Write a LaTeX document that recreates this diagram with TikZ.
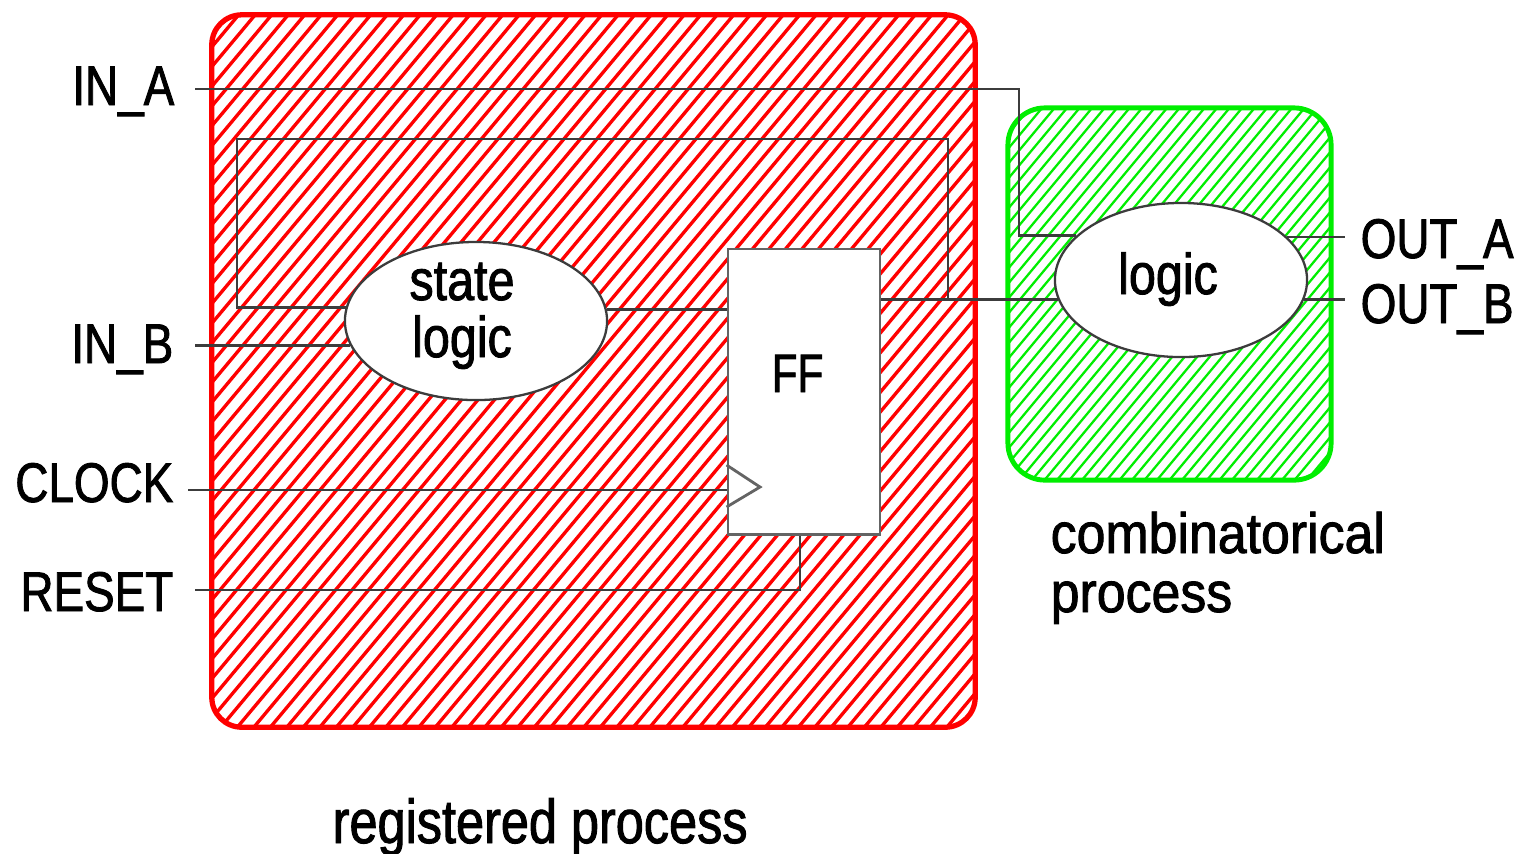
\documentclass[tikz,border=0pt]{standalone}
\usepackage{fontspec}
\usetikzlibrary{shapes.geometric,calc}

\newfontfamily\portfont[FakeStretch=0.82,FakeBold=1.5]{Liberation Sans}
\newfontfamily\blockfont[FakeStretch=0.84,FakeBold=1.5]{Liberation Sans}
\newfontfamily\fffont[FakeStretch=0.78,FakeBold=1.5]{Liberation Sans}
\newfontfamily\combfont[FakeStretch=0.91,FakeBold=1.5]{Liberation Sans}
\newfontfamily\regfont[FakeStretch=0.815,FakeBold=1.5]{Liberation Sans}

\definecolor{regred}{RGB}{255,0,0}
\definecolor{combgreen}{RGB}{0,238,0}
\definecolor{wirecol}{RGB}{60,60,60}
\definecolor{ffgray}{RGB}{100,100,100}

\tikzset{
  wire/.style={draw=wirecol, line width=0.8pt},
  redhatch/.style={regred, line width=0.95pt},
  greenhatch/.style={combgreen, line width=0.65pt},
  regbox/.style={draw=regred, line width=1.5pt, rounded corners=0.3cm, inner sep=0pt},
  combbox/.style={draw=combgreen, line width=1.4pt, rounded corners=0.37cm, inner sep=0pt},
  logicblob/.style={ellipse, draw=wirecol, fill=white, line width=0.65pt, inner sep=0pt},
  ffbox/.style={rectangle, draw=ffgray, fill=white, line width=0.8pt, inner sep=0pt},
  port/.style={inner sep=0pt, font=\portfont\fontsize{15.9pt}{16pt}\selectfont},
  blocktext/.style={inner sep=0pt, font=\blockfont\fontsize{16.4pt}{16pt}\selectfont},
  fftext/.style={inner sep=0pt, font=\fffont\fontsize{15.4pt}{16pt}\selectfont},
  combtext/.style={inner sep=0pt, font=\combfont\fontsize{16.2pt}{16pt}\selectfont},
  regtext/.style={inner sep=0pt, font=\regfont\fontsize{17.6pt}{18pt}\selectfont},
}

\begin{document}
\begin{tikzpicture}[x=0.01cm, y=-0.01cm]
  % canvas
  \fill[white] (0,0) rectangle (1515,853);
  \useasboundingbox (0,0) rectangle (1515,853);

  % registered process: hatched region
  \begin{scope}
    \clip[rounded corners=0.3cm] (212,15) rectangle (975,727);
    \foreach \i in {0,...,84}
      \draw[redhatch] ({-392+\i*16.5},730) -- ++(600,-718);
  \end{scope}
  \node[regbox, minimum width=7.63cm, minimum height=7.12cm] (reg) at (593.5,371) {};

  % combinatorical process: hatched region
  \begin{scope}
    \clip[rounded corners=0.37cm] (1008,108) rectangle (1331,480);
    \foreach \i in {0,...,53}
      \draw[greenhatch] ({692+\i*12.5},483) -- ++(315,-378);
  \end{scope}
  \node[combbox, minimum width=3.23cm, minimum height=3.72cm] (comb) at (1169.5,294) {};

  % blocks
  \node[logicblob, minimum width=2.62cm, minimum height=1.58cm] (sl) at (476,321) {};
  \node[logicblob, minimum width=2.52cm, minimum height=1.54cm] (lg) at (1181,280) {};
  \node[ffbox, minimum width=1.52cm, minimum height=2.85cm] (ff) at (804,391.5) {};

  % clock input marker
  \draw[ffgray, line width=0.8pt] (ff.west |- 0,465) -- (760,487) -- (ff.west |- 0,507);

  % block texts
  \node[blocktext, anchor=base] (slA) at (462,300) {state};
  \node[blocktext, anchor=base] (slB) at (462,357) {logic};
  \node[blocktext, anchor=base] (lgT) at (1168,294) {logic};
  \node[fftext, anchor=base] (ffT) at (797.5,392) {FF};

  % port labels
  \node[port, anchor=base east] (tINA) at (175,105) {IN\_A};
  \node[port, anchor=base east] (tINB) at (174,363) {IN\_B};
  \node[port, anchor=base east] (tCLK) at (174,502) {CLOCK};
  \node[port, anchor=base east] (tRST) at (174,611) {RESET};
  \node[port, anchor=base west] (tOUTA) at (1360,258) {OUT\_A};
  \node[port, anchor=base west] (tOUTB) at (1360,323) {OUT\_B};

  % process captions
  \node[regtext, anchor=base west] (capR) at (332,843) {registered process};
  \node[combtext, anchor=base west] (capC1) at (1050,553) {combinatorical};
  \node[combtext, anchor=base west] (capC2) at (1050,612) {process};

  % wire end points
  \coordinate (pinA) at (195,89);
  \coordinate (pinB) at (195,347);
  \coordinate (pinC) at (188,490);
  \coordinate (pinR) at (195,590);
  \coordinate (poA) at (1345,237);
  \coordinate (poB) at (1345,301);
  \coordinate (inAk) at (1019,89);
  \coordinate (rstK) at (800,590);
  \coordinate (fbTR) at (948,139);
  \coordinate (fbTL) at (237,139);

  % inputs
  \draw[wire] (pinA) -- (inAk) |- (lg.157.6);
  \draw[wire] (pinB |- sl.191.9) -- (sl.191.9);
  \draw[wire] (pinC) -- (pinC -| ff.west);
  \draw[wire] (pinR) -- (rstK) -- (rstK |- ff.south);

  % state logic to flip-flop
  \draw[wire] (sl.5.75) -- (sl.5.75 -| ff.west);

  % flip-flop output to output logic, with feedback loop
  \draw[wire] (ff.east |- lg.189.8) -- (lg.189.8);
  \draw[wire] (lg.189.8 -| fbTR) -- (fbTR) -- (fbTL) |- (sl.174.3);

  % outputs
  \draw[wire] (lg.22.4) -- (lg.22.4 -| poA);
  \draw[wire] (lg.-9.8) -- (lg.-9.8 -| poB);
\end{tikzpicture}
\end{document}
